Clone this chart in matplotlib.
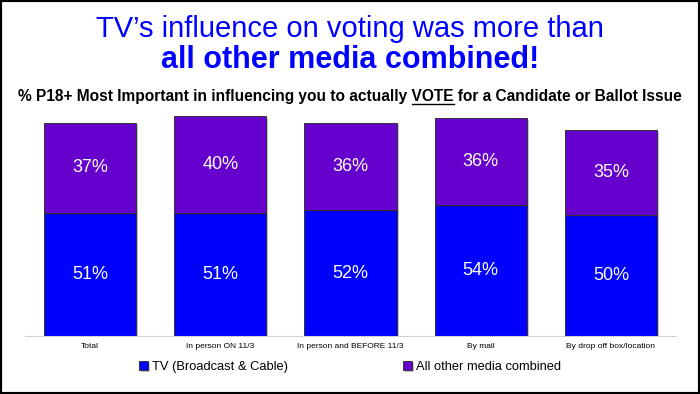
import matplotlib
matplotlib.use("Agg")
import matplotlib.pyplot as plt
from matplotlib.patches import Rectangle
from matplotlib.lines import Line2D
import matplotlib.patheffects as pe

categories = ["Total", "In person ON 11/3", "In person and BEFORE 11/3", "By mail", "By drop off box/location"]
tv = [51, 51, 52, 54, 50]
other = [37, 40, 36, 36, 35]
series_names = ["TV (Broadcast & Cable)", "All other media combined"]

blue = "#0000FF"
purple = "#6600CC"
font = ["Liberation Sans", "DejaVu Sans"]
plt.rcParams["font.family"] = font

fig = plt.figure(figsize=(7, 3.94), dpi=100)
ax = fig.add_axes([25 / 700, 1 - 336 / 394, 651 / 700, 230 / 394])

x = range(len(categories))
shadow = [pe.SimplePatchShadow(offset=(1.5, -1.5), alpha=0.25), pe.Normal()]
b1 = ax.bar(x, tv, width=0.707, color=blue, edgecolor="#333333", linewidth=0.7, path_effects=shadow)
b2 = ax.bar(x, other, bottom=tv, width=0.707, color=purple, edgecolor="#333333", linewidth=0.7, path_effects=shadow)

for i in x:
    ax.text(i, tv[i] / 2, f"{tv[i]}%", ha="center", va="center", color="white", fontsize=13)
    ax.text(i, tv[i] + other[i] / 2, f"{other[i]}%", ha="center", va="center", color="white", fontsize=13)

ax.set_xlim(-0.5, len(categories) - 0.5)
ax.set_ylim(0, 95)
ax.set_xticks(list(x))
ax.set_xticklabels(categories, fontsize=6)
ax.tick_params(axis="x", length=0, pad=5)
ax.set_yticks([])
for s in ["top", "right", "left"]:
    ax.spines[s].set_visible(False)
ax.spines["bottom"].set_color("#d0d0d0")

# legend
fig.legend([b1, b2], series_names, loc="center", bbox_to_anchor=(0.5, 1 - 367 / 394), ncol=2,
           frameon=False, fontsize=9.3, handlelength=0.7, handleheight=0.7, handletextpad=0.3,
           columnspacing=8.9)

# titles
fig.text(0.5, 1 - 37 / 394, "TV\u2019s influence on voting was more than", ha="center", va="baseline",
         color=blue, fontsize=21)
fig.text(0.5, 1 - 68.5 / 394, "all other media combined!", ha="center", va="baseline",
         color=blue, fontsize=22, fontweight="bold")

pre = "% P18+ Most Important in influencing you to actually "
sub = pre + "VOTE for a Candidate or Ballot Issue"
sy = 1 - 101 / 394
fs = 11.2
st = fig.text(0.5, sy, sub, ha="center", va="baseline", fontsize=fs, fontweight="bold")

fig.canvas.draw()
r = fig.canvas.get_renderer()
bb = st.get_window_extent(r)
tmp = fig.text(0, 0, pre + "VOTE", fontsize=fs, fontweight="bold")
w_end = tmp.get_window_extent(r).width
tmp.set_text("VOTE")
w_vote = tmp.get_window_extent(r).width
tmp.remove()
x1 = (bb.x0 + w_end) / fig.bbox.width
x0 = x1 - w_vote / fig.bbox.width
uy = sy - 2.5 / 394
fig.add_artist(Line2D([x0, x1], [uy, uy], transform=fig.transFigure, color="black", lw=1))

fig.add_artist(Rectangle((0, 0), 1, 1, transform=fig.transFigure, fill=False, edgecolor="black", lw=3))

fig.savefig("out.png", dpi=100, facecolor="white")
